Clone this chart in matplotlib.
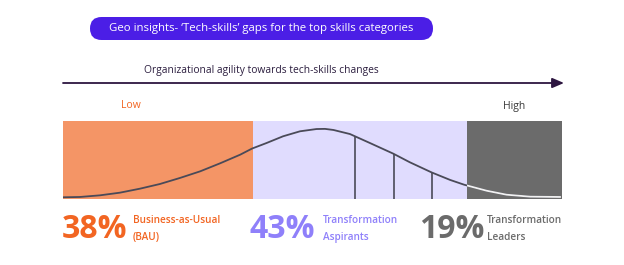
import matplotlib
matplotlib.use("Agg")
import matplotlib.pyplot as plt
import numpy as np
from matplotlib.patches import FancyBboxPatch, Rectangle

plt.rcParams['font.family'] = ['Open Sans', 'DejaVu Sans']

# segment shares (%)
shares = [38, 43, 19]
pct_labels = ["38%", "43%", "19%"]
seg_names = ["Business-as-Usual\n(BAU)", "Transformation\nAspirants", "Transformation\nLeaders"]

# bell curve: x in % of the band, y as share of band height
curve_x = [0.06, 3.4, 7.4, 11.4, 15.4, 19.4, 23.4, 27.5, 31.5, 35.5, 37.9, 40.8,
           44.1, 47.5, 50.8, 52.5, 54.2, 57.5, 61.5, 66.2, 69.5, 73.9, 77.6, 80.4,
           84.9, 88.9, 93.6, 99.6]
curve_y = [0.022, 0.026, 0.047, 0.081, 0.132, 0.192, 0.269, 0.355, 0.458, 0.568,
           0.647, 0.718, 0.804, 0.868, 0.897, 0.899, 0.885, 0.833, 0.718, 0.581,
           0.471, 0.34, 0.244, 0.183, 0.106, 0.055, 0.03, 0.026]
marker_x = [58.5, 66.3, 73.9]

band_colors = ["#f49566", "#e0dcfe", "#6b6b6b"]
text_colors = ["#f26522", "#8f80fa", "#6b6b6b"]

fig = plt.figure(figsize=(6.24, 2.65), dpi=100)
fig.patch.set_facecolor("white")

# overlay in pixel units for the annotations
ov = fig.add_axes([0, 0, 1, 1])
ov.set_xlim(0, 624)
ov.set_ylim(265, 0)
ov.axis("off")

pill = FancyBboxPatch((90, 17), 343, 23, boxstyle="round,pad=0,rounding_size=11.5",
                      fc="#4b1ee6", ec="none")
ov.add_patch(pill)
ov.text(261.5, 29, "Geo insights- \u2018Tech-skills\u2019 gaps for the top skills categories",
        color="white", fontsize=8.2, ha="center", va="center")

ov.text(261, 70.5, "Organizational agility towards tech-skills changes",
        color="#2b1d3e", fontsize=7.4, ha="center", va="center")
ov.annotate("", xy=(564, 83), xytext=(63, 83),
            arrowprops=dict(arrowstyle="-|>,head_length=0.7,head_width=0.3",
                            color="#2d1640", lw=1.3, shrinkA=0, shrinkB=0))
ov.text(131, 106, "Low", color="#f26522", fontsize=7.5, ha="center", va="center")
ov.text(514, 106, "High", color="#3a3a3a", fontsize=7.5, ha="center", va="center")

# band with the distribution
ax = fig.add_axes([63 / 624, (265 - 199) / 265, 499 / 624, 78 / 265])
ax.set_xlim(0, 100)
ax.set_ylim(0, 1)
ax.axis("off")

left = 0
rects = []
for s, c in zip(shares, band_colors):
    r = Rectangle((left, 0), s, 1, fc=c, ec="none", zorder=1)
    ax.add_patch(r)
    rects.append(r)
    left += s

ax.plot(curve_x, curve_y, color="#4a4a58", lw=1.3, zorder=3, solid_capstyle="round")
light, = ax.plot(curve_x, curve_y, color="#f2f2f2", lw=1.3, zorder=4)
light.set_clip_path(rects[2])

tops = np.interp(marker_x, curve_x, curve_y)
ax.vlines(marker_x, 0, tops, color="#4a4a58", lw=1.2, zorder=3)

# percentages and labels
num_x = [62, 249, 419]
for i in range(3):
    ov.text(num_x[i], 229, pct_labels[i], color=text_colors[i], fontsize=23,
            fontweight="bold", ha="left", va="center")
label_x = [133, 323, 487]
for i in range(3):
    ov.text(label_x[i], 229, seg_names[i], color=text_colors[i], fontsize=7.2,
            fontweight="semibold", ha="left", va="center", linespacing=1.75)

fig.savefig("out.png", dpi=100)
